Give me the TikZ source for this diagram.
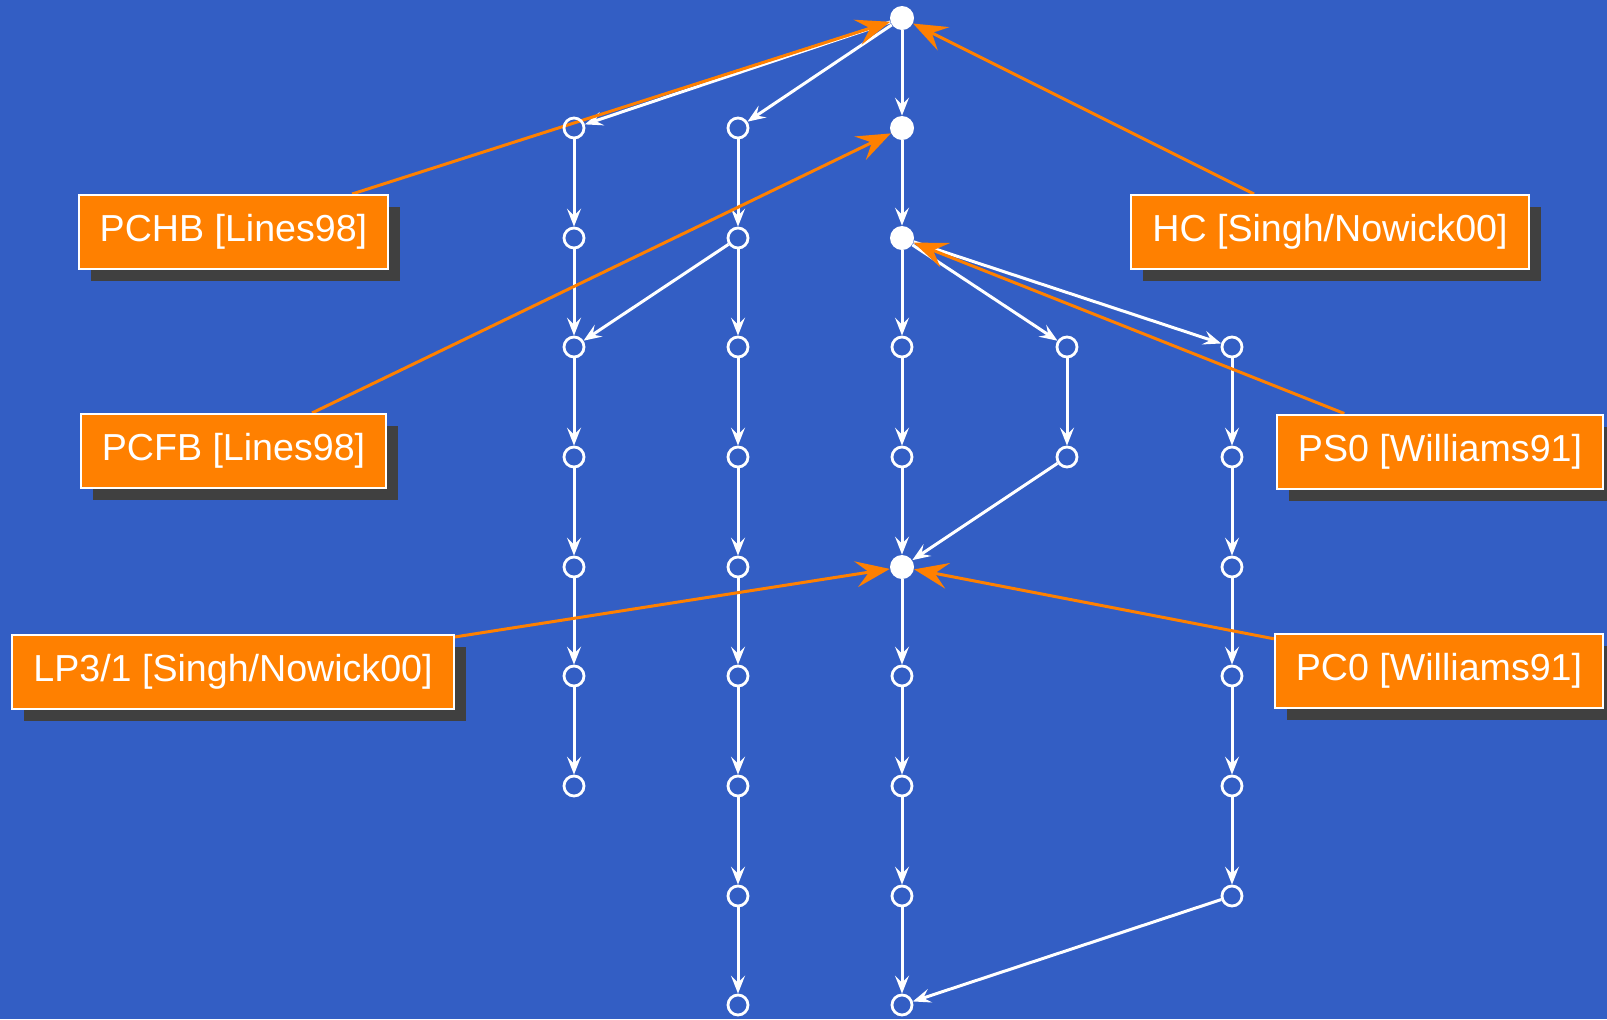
\documentclass[tikz,border=0pt]{standalone}
\usepackage{fontspec}
\setmainfont{Liberation Sans}
\usetikzlibrary{arrows.meta,shadows}
\definecolor{bg}{RGB}{51,94,196}
\definecolor{org}{RGB}{255,128,0}
\definecolor{shd}{RGB}{64,64,64}
\pgfdeclarelayer{backdrop}
\pgfdeclarelayer{edges}
\pgfsetlayers{backdrop,edges,main}
\begin{document}
\begin{tikzpicture}[x=0.5pt,y=-0.5pt,
 hol/.style={circle,draw=white,line width=1.4pt,minimum size=10pt,inner sep=0pt},
 fil/.style={circle,fill=white,minimum size=12pt,inner sep=0pt},
 wed/.style={draw=white,line width=1.5pt,-{Stealth[length=9pt,width=7pt,inset=3.5pt]}},
 oed/.style={draw=org,line width=1.5pt,-{Stealth[length=17pt,width=13pt,inset=6.5pt]}},
 lbl/.style={fill=org,draw=white,line width=1pt,text=white,
   font=\fontsize{18.8pt}{22pt}\selectfont,inner xsep=10.5pt,minimum height=37pt,
   drop shadow={shadow xshift=6pt,shadow yshift=-6pt,fill=shd,opacity=1}}]
\useasboundingbox (0,0) rectangle (1607,1019);
\begin{pgfonlayer}{backdrop}
\fill[bg] (0,0) rectangle (1607,1019);
\end{pgfonlayer}
% column A
\foreach \r/\y in {1/128,2/238,3/347,4/457,5/567,6/676,7/786}
  \node[hol] (a\r) at (574,\y) {};
% column B
\foreach \r/\y in {1/128,2/238,3/347,4/457,5/567,6/676,7/786,8/896,9/1005}
  \node[hol] (b\r) at (738,\y) {};
% column C
\node[fil] (c0) at (902,18) {};
\node[fil] (c1) at (902,128) {};
\node[fil] (c2) at (902,238) {};
\node[hol] (c3) at (902,347) {};
\node[hol] (c4) at (902,457) {};
\node[fil] (c5) at (902,567) {};
\foreach \r/\y in {6/676,7/786,8/896,9/1005}
  \node[hol] (c\r) at (902,\y) {};
% column D
\node[hol] (d3) at (1067,347) {};
\node[hol] (d4) at (1067,457) {};
% column E
\foreach \r/\y in {3/347,4/457,5/567,6/676,7/786,8/896}
  \node[hol] (e\r) at (1232,\y) {};
% labels
\node[lbl] (pchb) at (233.5,232) {PCHB [Lines98]};
\node[lbl] (pcfb) at (233.5,451) {PCFB [Lines98]};
\node[lbl] (lp31) at (233,671.5) {LP3/1 [Singh/Nowick00]};
\node[lbl] (hc) at (1330,232) {HC [Singh/Nowick00]};
\node[lbl] (ps0) at (1440,451.5) {PS0 [Williams91]};
\node[lbl] (pc0) at (1439,670.5) {PC0 [Williams91]};
\begin{pgfonlayer}{edges}
\draw[wed] (c0) -- (a1);
\draw[wed] (c0) -- (b1);
\foreach \i in {1,...,6}{\pgfmathtruncatemacro\j{\i+1}\draw[wed] (a\i) -- (a\j);}
\foreach \i in {1,...,8}{\pgfmathtruncatemacro\j{\i+1}\draw[wed] (b\i) -- (b\j);}
\foreach \i in {0,...,8}{\pgfmathtruncatemacro\j{\i+1}\draw[wed] (c\i) -- (c\j);}
\draw[wed] (b2) -- (a3);
\draw[wed] (c2) -- (d3);
\draw[wed] (c2) -- (e3);
\draw[wed] (d3) -- (d4);
\draw[wed] (d4) -- (c5);
\foreach \i in {3,...,7}{\pgfmathtruncatemacro\j{\i+1}\draw[wed] (e\i) -- (e\j);}
\draw[wed] (e8) -- (c9);
\draw[oed] (pchb) -- (c0);
\draw[oed] (pcfb) -- (c1);
\draw[oed] (hc) -- (c0);
\draw[oed] (ps0) -- (c2);
\draw[oed] (lp31) -- (c5);
\draw[oed] (pc0) -- (c5);
\end{pgfonlayer}
\end{tikzpicture}
\end{document}
